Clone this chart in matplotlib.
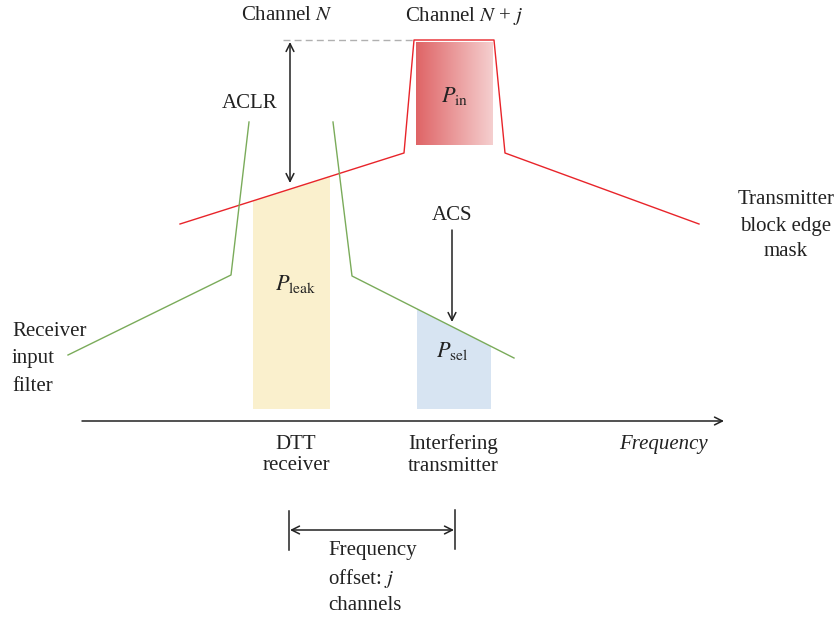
import numpy as np
import matplotlib
matplotlib.use("Agg")
import matplotlib.pyplot as plt
from matplotlib.patches import Polygon
from matplotlib.colors import LinearSegmentedColormap

# ---- schematic data (pixel-space coordinates of the diagram) ----
mask_x = [180, 404, 414, 494, 505, 699]
mask_y = [224, 153, 40, 40, 153, 224]
filt_left_x = [68, 231, 249]
filt_left_y = [355, 275, 122]
filt_right_x = [333, 352, 514]
filt_right_y = [122, 276, 358]
leak_x = [253, 330]
sel_x = [417, 491]
pin_box = [416, 493, 42, 145]   # x0, x1, y0, y1
floor_y = 409
axis_y = 421
axis_x = [82, 724]

font = ["Liberation Serif", "DejaVu Serif"]
plt.rcParams["font.family"] = font
plt.rcParams["mathtext.fontset"] = "stix"

fig = plt.figure(figsize=(8.39, 6.18), dpi=100)
ax = fig.add_axes([0, 0, 1, 1])
ax.set_xlim(0, 839)
ax.set_ylim(618, 0)
ax.axis("off")

# P_leak area (top follows the mask)
ly = [np.interp(x, mask_x[:2], mask_y[:2]) for x in leak_x]
ax.add_patch(Polygon([(leak_x[0], floor_y), (leak_x[0], ly[0]), (leak_x[1], ly[1]), (leak_x[1], floor_y)],
                     closed=True, facecolor="#faf0cd", edgecolor="none", zorder=1))
# P_sel area (top follows the filter)
sy = [np.interp(x, filt_right_x[1:], filt_right_y[1:]) for x in sel_x]
ax.add_patch(Polygon([(sel_x[0], floor_y), (sel_x[0], sy[0]), (sel_x[1], sy[1]), (sel_x[1], floor_y)],
                     closed=True, facecolor="#d7e4f2", edgecolor="none", zorder=1))
# P_in gradient
grad = np.linspace(0, 1, 256).reshape(1, -1)
cmap = LinearSegmentedColormap.from_list("pin", ["#df6466", "#f5cfcf"])
ax.imshow(grad, cmap=cmap, extent=[pin_box[0], pin_box[1], pin_box[3], pin_box[2]],
          aspect="auto", zorder=1)

# lines
ax.plot(mask_x, mask_y, color="#e8242a", lw=1.0, zorder=3)
ax.plot(filt_left_x, filt_left_y, color="#7aab5a", lw=1.0, zorder=3)
ax.plot(filt_right_x, filt_right_y, color="#7aab5a", lw=1.0, zorder=3)
ax.plot([283, 414], [40, 40], color="#b0b0b0", lw=1.0, ls=(0, (5, 3)), zorder=2)

arrow_kw = dict(arrowstyle="<->", color="#222222", lw=1.1, mutation_scale=14, shrinkA=0, shrinkB=0)
ax.annotate("", xy=(290, 183), xytext=(290, 42), arrowprops=arrow_kw)
ax.annotate("", xy=(452, 322), xytext=(452, 230),
            arrowprops=dict(arrowstyle="->", color="#222222", lw=1.1, mutation_scale=14, shrinkA=0, shrinkB=0))
ax.annotate("", xy=(axis_x[1], axis_y), xytext=(axis_x[0], axis_y),
            arrowprops=dict(arrowstyle="->", color="#222222", lw=1.1, mutation_scale=14, shrinkA=0, shrinkB=0))
# frequency offset
ax.plot([289, 289], [511, 550], color="#222222", lw=1.1)
ax.plot([455, 455], [510, 549], color="#222222", lw=1.1)
ax.annotate("", xy=(454, 530), xytext=(290, 530), arrowprops=arrow_kw)

fs = 15
tc = "#222222"
ax.text(287, 16, "Channel $N$", ha="center", va="center", fontsize=fs, color=tc)
ax.text(464, 16, "Channel $N$ + $j$", ha="center", va="center", fontsize=fs, color=tc)
ax.text(250, 103, "ACLR", ha="center", va="center", fontsize=fs, color=tc)
ax.text(452, 215, "ACS", ha="center", va="center", fontsize=fs, color=tc)
ax.text(455, 96, r"$P_{\mathrm{in}}$", ha="center", va="center", fontsize=fs + 1, color=tc)
ax.text(296, 284, r"$P_{\mathrm{leak}}$", ha="center", va="center", fontsize=fs + 1, color=tc)
ax.text(452, 351, r"$P_{\mathrm{sel}}$", ha="center", va="center", fontsize=fs + 1, color=tc)
ax.text(786, 226, "Transmitter\nblock edge\nmask", ha="center", va="center", fontsize=fs, color=tc,
        linespacing=1.5)
ax.text(12, 359, "Receiver\ninput\nfilter", ha="left", va="center", fontsize=fs, color=tc, linespacing=1.6)
ax.text(663, 445, "Frequency", ha="center", va="center", fontsize=fs, color=tc, style="italic")
ax.text(296, 455, "DTT\nreceiver", ha="center", va="center", fontsize=fs, color=tc, linespacing=1.2)
ax.text(453, 455, "Interfering\ntransmitter", ha="center", va="center", fontsize=fs, color=tc, linespacing=1.2)
ax.text(328, 578, "Frequency\noffset: $j$\nchannels", ha="left", va="center", fontsize=fs, color=tc,
        linespacing=1.42)

fig.savefig("out.png", dpi=100)
